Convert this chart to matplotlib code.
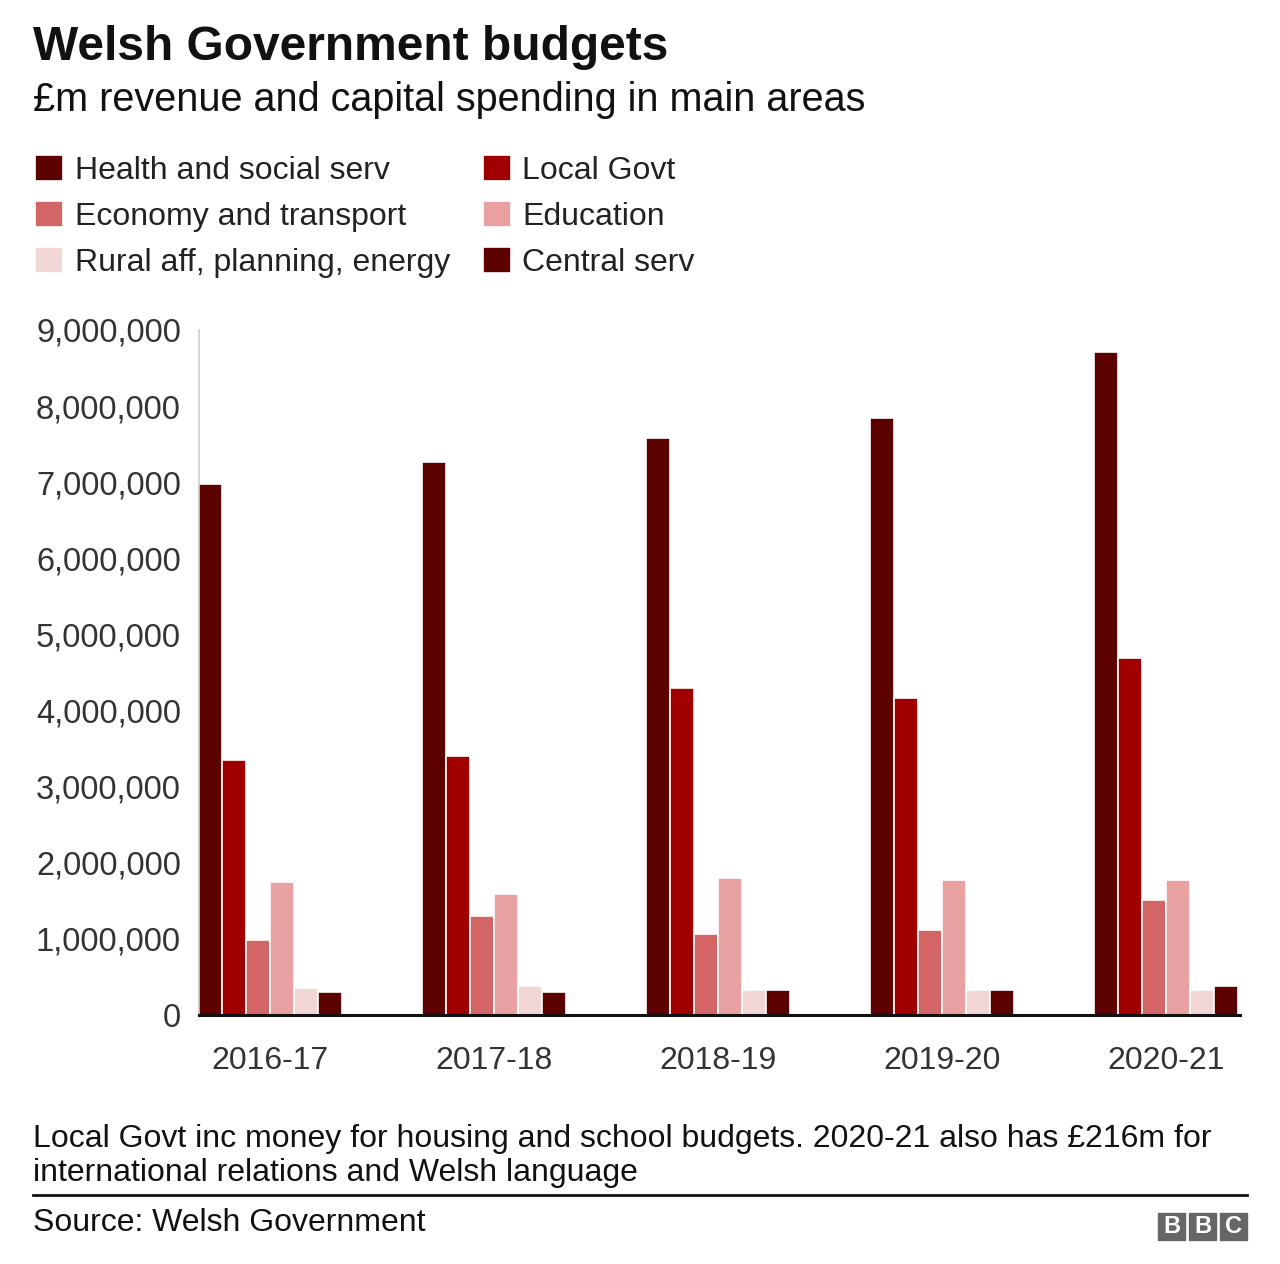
import matplotlib.pyplot as plt
from matplotlib.patches import Rectangle
from matplotlib.ticker import FuncFormatter
import numpy as np

plt.rcParams['font.family'] = ['Liberation Sans', 'DejaVu Sans']

years = ["2016-17", "2017-18", "2018-19", "2019-20", "2020-21"]
categories = ["Health and social serv", "Local Govt", "Economy and transport",
              "Education", "Rural aff, planning, energy", "Central serv"]
health = [6980000, 7270000, 7580000, 7840000, 8710000]
local_govt = [3350000, 3400000, 4300000, 4170000, 4690000]
economy = [990000, 1300000, 1060000, 1120000, 1510000]
education = [1750000, 1590000, 1800000, 1770000, 1770000]
rural = [355000, 380000, 330000, 330000, 330000]
central = [300000, 300000, 330000, 330000, 380000]
series = [health, local_govt, economy, education, rural, central]
colors = ["#5c0000", "#a00000", "#d46565", "#e8a0a0", "#f1d6d6", "#5c0000"]

fig = plt.figure(figsize=(12.8, 12.64), dpi=100)
ax = fig.add_axes([199/1280, 1 - 1015/1264, (1240-199)/1280, (1015-330)/1264])

x = np.arange(len(years))
step = 0.107
for i, (vals, col, name) in enumerate(zip(series, colors, categories)):
    ax.bar(x - 2.5*step + i*step, vals, width=step, color=col,
           edgecolor="white", linewidth=1.2, label=name, zorder=2)

ax.set_xlim(-0.317, 4.33)
ax.set_ylim(0, 9000000)
ax.set_yticks(range(0, 9000001, 1000000))
ax.yaxis.set_major_formatter(FuncFormatter(lambda v, p: f"{int(v):,}"))
ax.set_xticks(x)
ax.set_xticklabels(years)
ax.tick_params(axis="both", length=0, labelsize=23.5, colors="#333333")
ax.tick_params(axis="y", pad=13)
ax.tick_params(axis="x", pad=22, labelsize=23)
for s in ["top", "right"]:
    ax.spines[s].set_visible(False)
ax.spines["left"].set_color("#cccccc")
ax.spines["left"].set_linewidth(1.2)
ax.spines["bottom"].set_color("#111111")
ax.spines["bottom"].set_linewidth(2.2)
ax.spines["bottom"].set_zorder(3)

# legend, row order as in the original
handles, labels = ax.get_legend_handles_labels()
order = [0, 2, 4, 1, 3, 5]
fig.legend([handles[k] for k in order], [labels[k] for k in order],
           ncol=2, loc="upper left", bbox_to_anchor=(35/1280, 1 - 155/1264),
           frameon=False, fontsize=23, handlelength=0.87, handleheight=0.87,
           handletextpad=0.37, columnspacing=1.03, labelspacing=0.47,
           borderpad=0, borderaxespad=0, labelcolor="#222222")

fig.text(33/1280, 1 - 48/1264, "Welsh Government budgets", fontsize=34.5,
         fontweight="bold", va="center", ha="left", color="#111111")
fig.text(33/1280, 1 - 100/1264, "£m revenue and capital spending in main areas",
         fontsize=28.5, va="center", ha="left", color="#111111")
fig.text(33/1280, 1 - 1156/1264,
         "Local Govt inc money for housing and school budgets. 2020-21 also has £216m for\n"
         "international relations and Welsh language",
         fontsize=23, va="center", ha="left", color="#111111", linespacing=1.15)
fig.add_artist(plt.Line2D([33/1280, 1247/1280], [1 - 1195/1264]*2,
                          color="#111111", linewidth=2))
fig.text(33/1280, 1 - 1223/1264, "Source: Welsh Government", fontsize=23,
         va="center", ha="left", color="#111111")

# BBC blocks
for k, letter in enumerate("BBC"):
    x0 = (1158 + k*31) / 1280
    fig.add_artist(Rectangle((x0, 1 - 1240/1264), 27/1280, 27/1264,
                             color="#666666", transform=fig.transFigure))
    fig.text(x0 + 13.5/1280, 1 - 1226.5/1264, letter, fontsize=17,
             fontweight="bold", color="white", ha="center", va="center")

plt.savefig("out.png", dpi=100)
